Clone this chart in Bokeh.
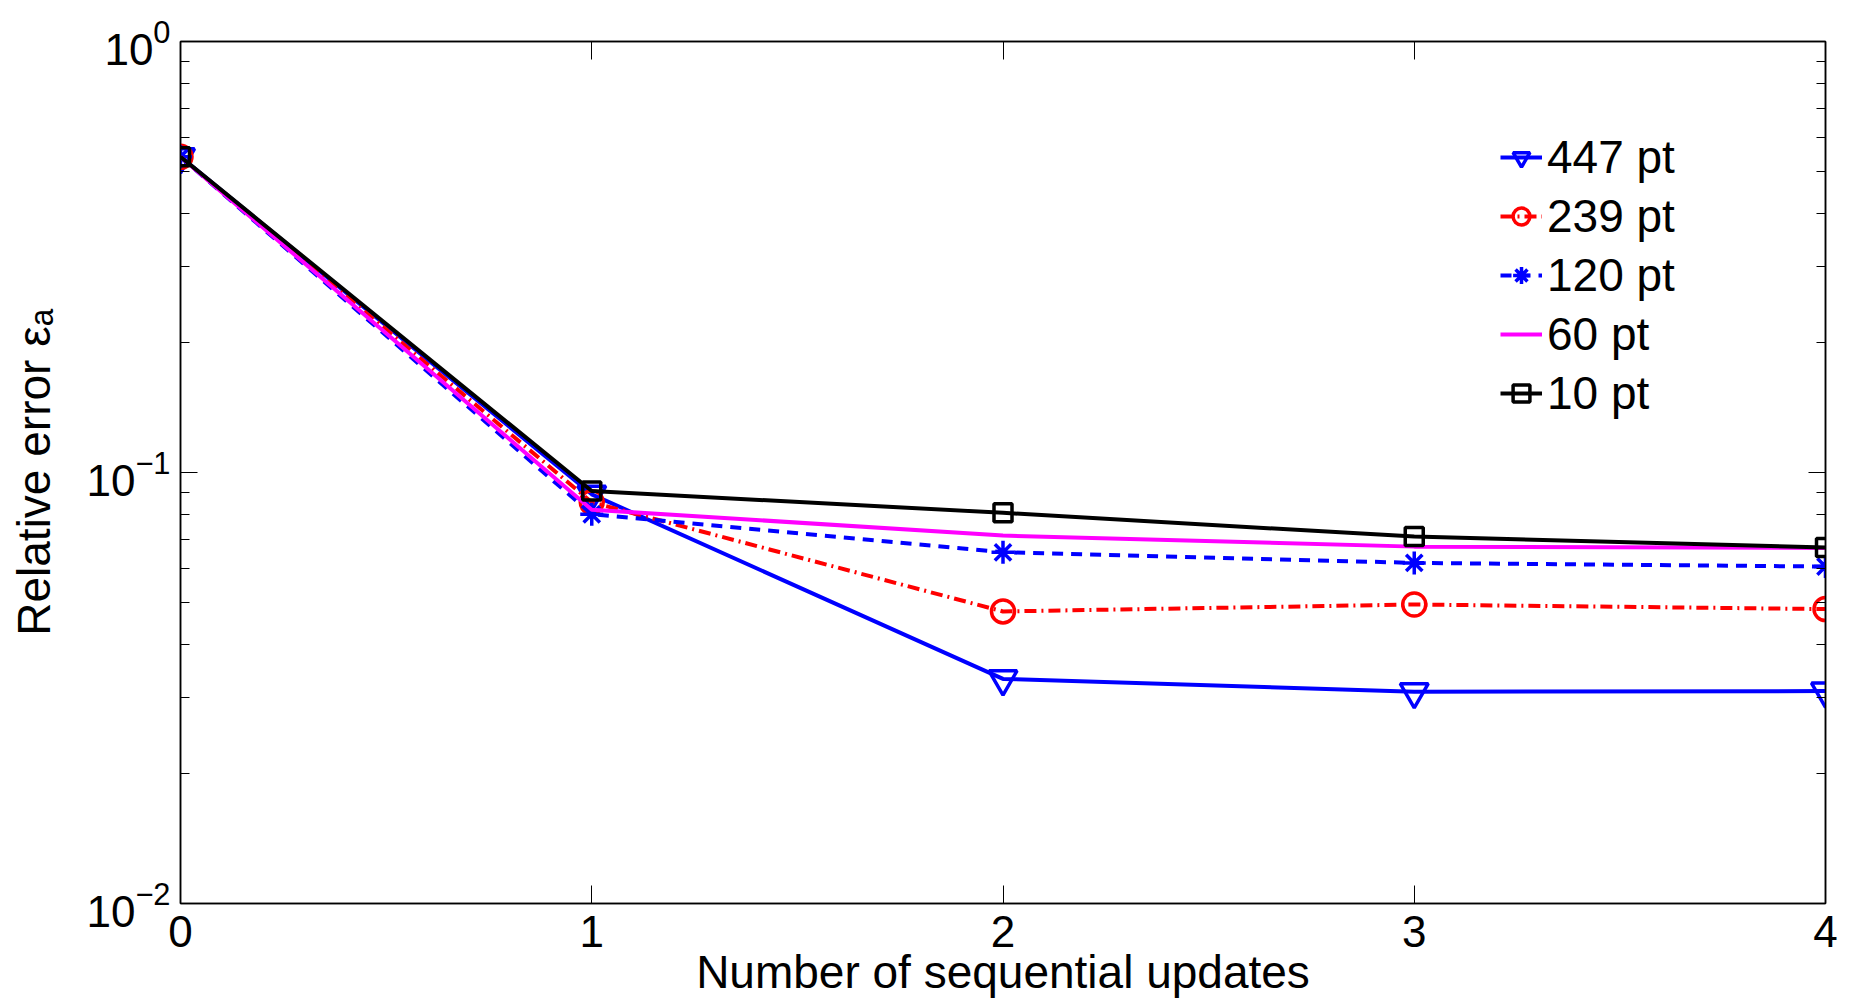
from bokeh.plotting import figure
from bokeh.models import (LogAxis, LinearAxis, Legend, LegendItem, FixedTicker,
                          CustomJSTickFormatter, Range1d, LogTickFormatter)
from bokeh.embed import file_html
from bokeh.resources import INLINE

# ---- data ----
updates = [0, 1, 2, 3, 4]
err_447 = [0.540, 0.0890, 0.0332, 0.0310, 0.0311]
err_239 = [0.540, 0.0853, 0.0476, 0.0494, 0.0482]
err_120 = [0.540, 0.0800, 0.0653, 0.0617, 0.0605]
err_60 = [0.540, 0.0820, 0.0714, 0.0673, 0.0668]
err_10 = [0.540, 0.0906, 0.0806, 0.0710, 0.0670]
labels = ["447 pt", "239 pt", "120 pt", "60 pt", "10 pt"]
x_ticks = [0, 1, 2, 3, 4]
y_major = [0.01, 0.1, 1.0]
y_minor = [m * 10.0 ** e for e in (-2, -1) for m in range(2, 10)]

FONT = "Liberation Sans"
FS = "46px"
FS_TICK = "44px"

p = figure(width=1850, height=1000, y_axis_type="log",
           x_range=Range1d(0, 4), y_range=Range1d(0.01, 1),
           output_backend="svg", toolbar_location=None,
           min_border_left=180, min_border_right=25,
           min_border_top=41, min_border_bottom=97)
p.xgrid.visible = False
p.ygrid.visible = False
p.outline_line_color = "black"
p.outline_line_width = 1.5
p.background_fill_color = "white"
p.border_fill_color = "white"

# bottom axis
xa = p.xaxis[0]
xa.ticker = FixedTicker(ticks=x_ticks)
xa.major_tick_in = 18
xa.major_tick_out = 0
xa.minor_tick_line_color = None
xa.axis_line_color = "black"
xa.axis_line_width = 1.5
xa.major_label_text_font = FONT
xa.major_label_text_font_size = FS_TICK
xa.major_label_text_color = "black"
xa.major_label_standoff = 12
xa.axis_label = "Number of sequential updates"
xa.axis_label_text_font = FONT
xa.axis_label_text_font_size = FS
xa.axis_label_text_font_style = "normal"
xa.axis_label_text_color = "black"
xa.axis_label_standoff = -4

# left axis
ya = p.yaxis[0]
ya.ticker = FixedTicker(ticks=y_major, minor_ticks=y_minor)
ya.formatter = LogTickFormatter()
ya.major_tick_in = 17
ya.major_tick_out = 0
ya.minor_tick_in = 9
ya.minor_tick_out = 0
ya.axis_line_color = "black"
ya.axis_line_width = 1.5
ya.major_label_text_font = FONT
ya.major_label_text_font_size = FS_TICK
ya.major_label_text_color = "black"
ya.major_label_standoff = 10
ya.axis_label = "Relative error \u03b5\u2090"
ya.axis_label_text_font = FONT
ya.axis_label_text_font_size = FS
ya.axis_label_text_font_style = "normal"
ya.axis_label_text_color = "black"
ya.axis_label_standoff = 23

blank = CustomJSTickFormatter(code="return ''")

top = LinearAxis(ticker=FixedTicker(ticks=x_ticks), formatter=blank,
                 major_tick_in=18, major_tick_out=0, minor_tick_line_color=None,
                 axis_line_color="black", axis_line_width=1.5,
                 major_label_standoff=0, major_label_text_font_size="1px")
p.add_layout(top, "above")

right = LogAxis(ticker=FixedTicker(ticks=y_major, minor_ticks=y_minor), formatter=blank,
                major_tick_in=17, major_tick_out=0, minor_tick_in=9, minor_tick_out=0,
                axis_line_color="black", axis_line_width=1.5,
                major_label_standoff=0, major_label_text_font_size="1px")
p.add_layout(right, "right")

LW = 4

r1 = p.line(updates, err_447, line_color="#0000ff", line_width=LW)
s1 = p.scatter(updates, err_447, marker="inverted_triangle", size=28,
               line_color="#0000ff", line_width=LW - 0.5, fill_alpha=0)

r2 = p.line(updates, err_239, line_color="#ff0000", line_width=LW, line_dash="12 5 2 5")
s2 = p.scatter(updates, err_239, marker="circle", size=23,
               line_color="#ff0000", line_width=LW - 0.5, fill_alpha=0)

r3 = p.line(updates, err_120, line_color="#0000ff", line_width=LW, line_dash="11 8")
s3 = p.scatter(updates, err_120, marker="asterisk", size=23,
               line_color="#0000ff", line_width=LW - 0.5, fill_alpha=0)

r4 = p.line(updates, err_60, line_color="#ff00ff", line_width=LW)

r5 = p.line(updates, err_10, line_color="black", line_width=LW)
s5 = p.scatter(updates, err_10, marker="square", size=18,
               line_color="black", line_width=LW - 0.5, fill_alpha=0)

items = [
    LegendItem(label=labels[0], renderers=[r1, s1]),
    LegendItem(label=labels[1], renderers=[r2, s2]),
    LegendItem(label=labels[2], renderers=[r3, s3]),
    LegendItem(label=labels[3], renderers=[r4]),
    LegendItem(label=labels[4], renderers=[r5, s5]),
]
legend = Legend(items=items, location=(1320, 483),
                label_text_font=FONT, label_text_font_size=FS, label_text_color="black",
                glyph_width=42, glyph_height=54, label_height=54, label_standoff=5,
                spacing=5, padding=0, margin=0,
                border_line_alpha=0, background_fill_alpha=0)
p.add_layout(legend)

open("out.html", "w").write(file_html(p, INLINE))
